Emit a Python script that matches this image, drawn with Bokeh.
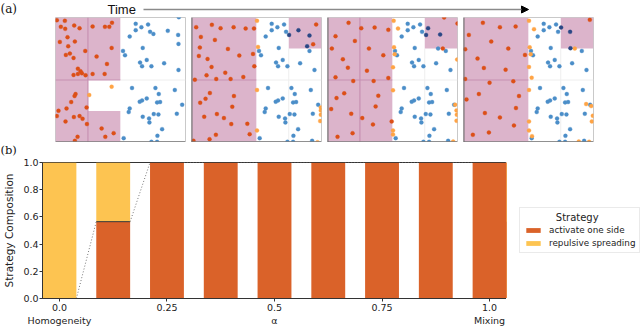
from bokeh.plotting import figure
from bokeh.layouts import column, row
from bokeh.models import (Range1d, Spacer, Legend, LegendItem, FixedTicker,
                          PrintfTickFormatter, Arrow, NormalHead, ColumnDataSource)
from bokeh.core.properties import value
from bokeh.embed import file_html
from bokeh.resources import INLINE

# ---------------- data: panel (b) ----------------
ALPHA = [0.0, 0.125, 0.25, 0.375, 0.5, 0.625, 0.75, 0.875, 1.0]
ACTIVATE = [0.0, 0.565, 1.0, 1.0, 1.0, 1.0, 1.0, 1.0, 1.0]
REPULSIVE = [1.0, 0.435, 0.0, 0.0, 0.0, 0.0, 0.0, 0.0, 0.0]
SERIES = ["activate one side", "repulsive spreading"]
TICK_VALUES = [0.0, 0.25, 0.5, 0.75, 1.0]
TICK_TEXT = ["0.0\nHomogeneity", "0.25", "0.5\nα", "0.75", "1.0\nMixing"]
Y_TICKS = [0.0, 0.2, 0.4, 0.6, 0.8, 1.0]

# ---------------- data: panel (a) (measured units) ----------------
COL_EDGES = [9, 106, 203, 300, 398]
ROW_EDGES = [9, 102, 196, 289, 383]

# pink cells: (col0, col1, row0, row1) with rows counted from top
P1_PINK = [(0, 1, 0, 4), (1, 2, 0, 2), (1, 2, 3, 4)]
P2_PINK = [(0, 2, 0, 4), (3, 4, 0, 1)]
P3_PINK = [(0, 2, 0, 4), (3, 4, 0, 1)]
P4_PINK = [(0, 2, 0, 4), (3, 4, 0, 1)]
# partition lines (c0, r0, c1, r1)
P1_LINES = [(1, 0, 1, 4), (0, 2, 2, 2)]
P2_LINES = [(0, 2, 2, 2)]
P3_LINES = [(1, 0, 1, 4), (0, 2, 2, 2)]
P4_LINES = [(0, 2, 2, 2)]
P1_FAINT = [(2, 2, 4, 2)]
P2_FAINT = [(3, 1, 3, 4), (2, 2, 4, 2)]
P3_FAINT = [(3, 1, 3, 4), (2, 2, 4, 2)]
P4_FAINT = [(3, 1, 3, 4), (2, 2, 4, 2)]

BLUE_COMMON = [(249, 28), (286, 30), (266, 38), (249, 47), (292, 52), (231, 66), (211, 109),
               (270, 100), (217, 122), (282, 136), (262, 144), (334, 146), (268, 155), (296, 155),
               (377, 166), (238, 220), (308, 220), (366, 226), (318, 238), (282, 251), (268, 257),
               (261, 261), (313, 263), (322, 262), (388, 270), (231, 281), (228, 292), (303, 298),
               (317, 299), (270, 306), (289, 311), (372, 297), (290, 323), (328, 343), (314, 363),
               (213, 370), (296, 381), (313, 381)]

P1_RED = [(13, 17), (37, 19), (25, 37), (38, 43), (65, 33), (81, 41), (45, 68), (22, 82), (67, 81),
          (47, 95), (98, 109), (40, 121), (52, 117), (63, 130), (76, 162), (84, 170), (63, 181),
          (76, 178), (88, 176), (99, 182), (120, 36), (157, 37), (170, 37), (178, 25), (177, 100),
          (132, 126), (163, 148), (120, 178), (156, 178), (69, 238), (66, 244), (56, 262), (18, 288),
          (42, 281), (13, 304), (64, 307), (81, 304), (90, 312), (102, 278), (39, 320), (75, 366),
          (67, 378), (103, 328), (147, 341), (183, 355), (158, 366)]
P1_LIGHT = [(177, 216), (110, 241)]
P1_DARK = []
P1_BLUE = [(345, 49), (302, 58), (376, 61), (377, 88), (378, 8)]

P2_RED = [(23, 38), (70, 31), (96, 41), (135, 38), (171, 42), (196, 42), (37, 67), (79, 76),
          (34, 99), (118, 103), (31, 124), (57, 133), (152, 123), (193, 118), (69, 157), (110, 174),
          (54, 182), (83, 193), (126, 193), (164, 187), (19, 195), (64, 235), (136, 244), (51, 252),
          (35, 264), (131, 276), (47, 306), (85, 298), (106, 310), (128, 328), (176, 327),
          (183, 358), (82, 360), (63, 373), (15, 378), (197, 155), (382, 30), (373, 89)]
P2_LIGHT = [(205, 19), (208, 97), (205, 226), (205, 347), (396, 278), (396, 287), (396, 300),
            (394, 319), (386, 382)]
P2_DARK = [(329, 47), (301, 61), (362, 63), (355, 95)]
P2_BLUE = [(362, 109), (370, 378)]

P3_RED = [(72, 25), (110, 41), (150, 39), (191, 46), (33, 65), (91, 79), (22, 102), (133, 102),
          (176, 122), (55, 134), (70, 159), (127, 168), (33, 188), (86, 199), (147, 199),
          (191, 190), (59, 236), (36, 250), (161, 243), (20, 283), (153, 275), (80, 297),
          (113, 310), (145, 329), (201, 320), (84, 355), (39, 366), (358, 9), (398, 27), (354, 102)]
P3_LIGHT = [(207, 19), (220, 42), (208, 98), (210, 119), (205, 158), (205, 227), (205, 347),
            (205, 359), (397, 135), (391, 270), (395, 287), (396, 300), (395, 318), (385, 380)]
P3_DARK = [(310, 41), (304, 61), (346, 60)]
P3_BLUE = [(340, 102), (363, 109), (370, 378)]

P4_RED = [(67, 25), (118, 38), (165, 36), (25, 61), (92, 81), (14, 104), (143, 102), (193, 121),
          (51, 132), (70, 160), (135, 165), (14, 193), (87, 204), (158, 200), (55, 238), (175, 244),
          (18, 254), (166, 280), (73, 295), (118, 308), (160, 332), (85, 353), (37, 360), (387, 16)]
P4_LIGHT = [(205, 19), (220, 44), (207, 98), (210, 119), (205, 157), (213, 189), (205, 226),
            (342, 102), (205, 320), (205, 347), (214, 364), (376, 268), (391, 274), (396, 303),
            (393, 320), (354, 380), (385, 381)]
P4_DARK = [(301, 39), (328, 52), (329, 101)]
P4_BLUE = [(363, 109), (370, 378)]

# ---------------- styles ----------------
ORANGE = "#da6229"
YELLOW = "#fdc451"
PINK = "#dcb4cb"
MAUVE = "#c690b1"
C_RED = "#dc4f17"
C_LIGHT = "#ffa445"
C_BLUE = "#4b8ec8"
C_DARK = "#2a4785"
SANS = "DejaVu Sans"


def base_fig(**kw):
    p = figure(title=None, toolbar_location=None, output_backend="svg", min_border=0, **kw)
    p.grid.visible = False
    return p


# ---------------- header ----------------
W = 632
HH = 17
head = base_fig(frame_width=W, frame_height=HH, x_range=Range1d(0, W), y_range=Range1d(0, HH),
                x_axis_location=None, y_axis_location=None)
head.outline_line_color = None
head.text(x=[0], y=[9], text=["(a)"], text_font=value("DejaVu Serif"), text_font_size="12px",
          text_baseline="middle", text_align="left", text_color="#111")
head.text(x=[107], y=[8.5], text=["Time"], text_font=value("Liberation Sans"),
          text_font_size="13px", text_baseline="middle", text_align="left", text_color="#111")
head.add_layout(Arrow(end=NormalHead(size=7, fill_color="black", line_color="black"),
                      x_start=143, y_start=8, x_end=528, y_end=8,
                      line_color="#8a8a8a", line_width=1.6))


def xy(pts):
    return [a for a, _ in pts], [b for _, b in pts]


def panel(pink, lines, faint, red, light, dark, blue, left_dark):
    p = base_fig(frame_width=130, frame_height=125, min_border_right=6,
                 x_range=Range1d(COL_EDGES[0], COL_EDGES[-1]),
                 y_range=Range1d(ROW_EDGES[-1], ROW_EDGES[0]),
                 x_axis_location=None, y_axis_location=None)
    p.outline_line_color = "#c9c9c9"
    p.segment(x0=[COL_EDGES[s[0]] for s in faint], y0=[ROW_EDGES[s[1]] for s in faint],
              x1=[COL_EDGES[s[2]] for s in faint], y1=[ROW_EDGES[s[3]] for s in faint],
              line_color="#eeeeee", line_width=1)
    p.quad(left=[COL_EDGES[c[0]] for c in pink], right=[COL_EDGES[c[1]] for c in pink],
           top=[ROW_EDGES[c[2]] for c in pink], bottom=[ROW_EDGES[c[3]] for c in pink],
           fill_color=PINK, line_color=None)
    p.segment(x0=[COL_EDGES[s[0]] for s in lines], y0=[ROW_EDGES[s[1]] for s in lines],
              x1=[COL_EDGES[s[2]] for s in lines], y1=[ROW_EDGES[s[3]] for s in lines],
              line_color=MAUVE, line_width=1.2)
    for pts, col in ((BLUE_COMMON + blue, C_BLUE), (red, C_RED), (light, C_LIGHT), (dark, C_DARK)):
        if not pts:
            continue
        xs, ys = xy(pts)
        p.scatter(xs, ys, size=4.0, fill_color=col, line_color=col, line_alpha=0.4,
                  line_width=0.8)
    p.segment(x0=[COL_EDGES[0]], y0=[ROW_EDGES[-1]], x1=[COL_EDGES[-1]], y1=[ROW_EDGES[-1]],
              line_color="#7d7d7d", line_width=2.5)
    if left_dark:
        p.segment(x0=[COL_EDGES[0]], y0=[ROW_EDGES[0]], x1=[COL_EDGES[0]], y1=[ROW_EDGES[-1]],
                  line_color="#6f6f6f", line_width=2)
    return p


p1 = panel(P1_PINK, P1_LINES, P1_FAINT, P1_RED, P1_LIGHT, P1_DARK, P1_BLUE, False)
p2 = panel(P2_PINK, P2_LINES, P2_FAINT, P2_RED, P2_LIGHT, P2_DARK, P2_BLUE, True)
p3 = panel(P3_PINK, P3_LINES, P3_FAINT, P3_RED, P3_LIGHT, P3_DARK, P3_BLUE, True)
p4 = panel(P4_PINK, P4_LINES, P4_FAINT, P4_RED, P4_LIGHT, P4_DARK, P4_BLUE, True)
top_row = row(Spacer(width=55, height=125), p1, p2, p3, p4)

# ---------------- (b) label strip ----------------
SH = 14
strip = base_fig(frame_width=W, frame_height=SH, x_range=Range1d(0, W), y_range=Range1d(0, SH),
                 x_axis_location=None, y_axis_location=None)
strip.outline_line_color = None
strip.text(x=[0], y=[7], text=["(b)"], text_font=value("DejaVu Serif"), text_font_size="11.5px",
           text_baseline="middle", text_align="left", text_color="#111")

# ---------------- bar chart ----------------
step = ALPHA[1] - ALPHA[0]
bw = step * 0.63
FW, FH = 464, 136
src = ColumnDataSource(dict(alpha=ALPHA, a=ACTIVATE, r=REPULSIVE))
bp = base_fig(frame_width=FW, frame_height=FH, min_border_top=6,
              x_range=Range1d(ALPHA[0] - bw / 2, ALPHA[-1] + bw / 2), y_range=Range1d(0, 1))
rs = bp.vbar_stack(["a", "r"], x="alpha", width=bw, fill_color=[ORANGE, YELLOW],
                   line_color=None, source=src)
# boundary lines across bars and dotted connectors
bp.segment(x0=[x - bw / 2 for x in ALPHA], y0=ACTIVATE, x1=[x + bw / 2 for x in ALPHA],
           y1=ACTIVATE, line_color="#333333", line_width=1)
bp.segment(x0=[x + bw / 2 for x in ALPHA[:-1]], y0=ACTIVATE[:-1],
           x1=[x - bw / 2 for x in ALPHA[1:]], y1=ACTIVATE[1:],
           line_color="#777777", line_width=1, line_dash="1 2")
bp.outline_line_color = "#333333"
bp.outline_line_width = 1
for ax in (bp.xaxis[0], bp.yaxis[0]):
    ax.major_tick_in = 0
    ax.major_tick_out = 3
    ax.minor_tick_line_color = None
    ax.major_label_standoff = 1
    ax.axis_line_color = "#333333"
    ax.major_tick_line_color = "#333333"
    ax.major_label_text_font = SANS
    ax.major_label_text_font_size = "9.5px"
    ax.major_label_text_color = "#222222"
bp.xaxis.major_label_standoff = 0
bp.xaxis.ticker = FixedTicker(ticks=TICK_VALUES)
bp.xaxis.major_label_overrides = {v: t for v, t in zip(TICK_VALUES, TICK_TEXT)}
bp.yaxis.ticker = FixedTicker(ticks=Y_TICKS)
bp.yaxis.formatter = PrintfTickFormatter(format="%.1f")
bp.yaxis.axis_label = "Strategy Composition"
bp.yaxis.axis_label_text_font = SANS
bp.yaxis.axis_label_text_font_size = "10.5px"
bp.yaxis.axis_label_text_font_style = "normal"
bp.yaxis.axis_label_text_color = "#222222"
bp.yaxis.axis_label_standoff = 5

# legend lives in its own small figure right of the bar chart; its proxy bars use the
# same data but sit outside that figure's visible range
leg_fig = base_fig(frame_width=134, frame_height=FH, min_border_top=6,
                   x_range=Range1d(10, 11), y_range=Range1d(0, 1),
                   x_axis_location=None, y_axis_location=None)
leg_fig.outline_line_color = None
lr = leg_fig.vbar_stack(["a", "r"], x="alpha", width=bw, fill_color=[ORANGE, YELLOW],
                        line_color=None, source=src)
legend = Legend(items=[LegendItem(label=SERIES[0], renderers=[lr[0]]),
                       LegendItem(label=SERIES[1], renderers=[lr[1]])],
                title="\u00a0" * 10 + "Strategy", location=(13, 45))
legend.title_text_font = SANS
legend.title_text_font_size = "10px"
legend.title_text_font_style = "normal"
legend.title_text_color = "#222222"
legend.title_standoff = 2
legend.label_text_font = SANS
legend.label_text_font_size = "8.8px"
legend.label_text_color = "#222222"
legend.glyph_width = 18
legend.glyph_height = 6
legend.label_height = 10
legend.label_standoff = 7
legend.spacing = 3
legend.padding = 4
legend.margin = 0
legend.border_line_color = "#d6d6d6"
legend.background_fill_color = "white"
leg_fig.add_layout(legend, "center")

layout = column(row(head), top_row, row(strip), row(bp, leg_fig))
open("out.html", "w").write(file_html(layout, INLINE))
